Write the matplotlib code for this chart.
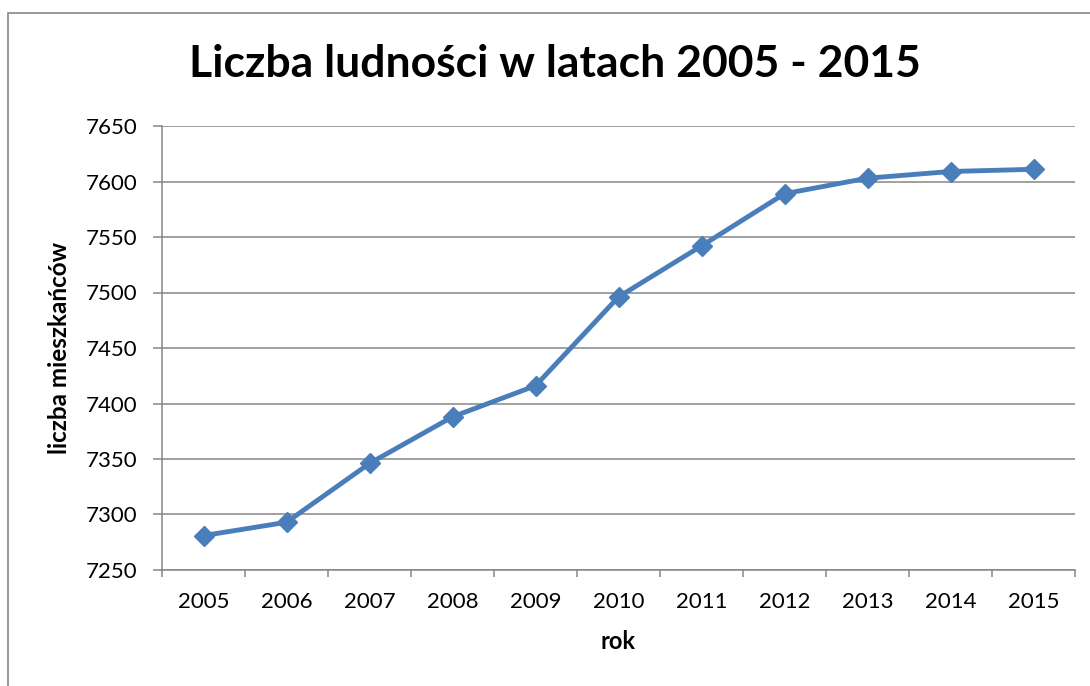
import matplotlib
matplotlib.use("Agg")
import matplotlib.pyplot as plt
from matplotlib.patches import Rectangle

years = ["2005", "2006", "2007", "2008", "2009", "2010",
         "2011", "2012", "2013", "2014", "2015"]
population = [7281, 7293, 7346, 7388, 7416, 7496,
              7542, 7589, 7603, 7609, 7611]
y_ticks = [7250, 7300, 7350, 7400, 7450, 7500, 7550, 7600, 7650]

plt.rcParams['font.family'] = ['Lato', 'DejaVu Sans']

fig = plt.figure(figsize=(10.9, 6.86), dpi=100)
W, H = 1090, 686

# outer chart border (clipped on the right / bottom like the source)
fig.patches.append(Rectangle((8 / W, -0.05), 1.1, 1 - 13 / H + 0.05,
                             transform=fig.transFigure, fill=False,
                             edgecolor="#868686", linewidth=1.2))

ax = fig.add_axes([162 / W, 1 - 570 / H, (1075 - 162) / W, (570 - 126) / H])

x = list(range(len(years)))
ax.plot(x, population, color="#4a7ebb", linewidth=3.5, marker="D",
        markersize=10, zorder=3, clip_on=False)

ax.set_xlim(-0.5, len(years) - 0.5)
ax.set_ylim(7250, 7650)
ax.set_yticks(y_ticks)
ax.set_xticks(x)
ax.set_xticklabels(years)
ax.set_xticks([i - 0.5 for i in range(len(years) + 1)], minor=True)

ax.grid(axis="y", color="#868686", linewidth=1.1)
ax.set_axisbelow(True)
for s in ["top", "right"]:
    ax.spines[s].set_visible(False)
for s in ["left", "bottom"]:
    ax.spines[s].set_color("#868686")
    ax.spines[s].set_linewidth(1.1)

ax.tick_params(axis="y", length=6.5, width=1.1, color="#868686",
               pad=11, labelsize=16)
ax.tick_params(axis="x", which="major", length=0, pad=16, labelsize=16)
ax.tick_params(axis="x", which="minor", length=5, width=1.1, color="#868686")

ax.set_xlabel("rok", fontsize=17, fontweight="bold", va="top")
ax.xaxis.set_label_coords(0.5, -0.136)
ax.set_ylabel("liczba mieszkańców", fontsize=17.5, fontweight="bold")
ax.yaxis.set_label_coords(-0.1, 0.5)

fig.text(555 / W, 1 - 64 / H, "Liczba ludności w latach 2005 - 2015",
         ha="center", va="center", fontsize=32, fontweight="bold")

fig.savefig("out.png", dpi=100)
